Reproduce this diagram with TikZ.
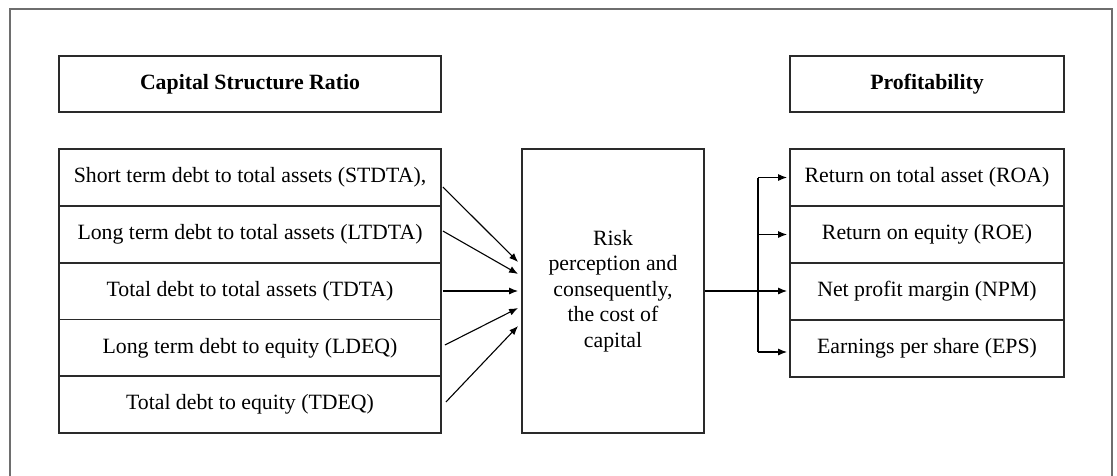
\documentclass[tikz,border=0pt]{standalone}
\usepackage{fontspec}
\setmainfont{Liberation Serif}
\usetikzlibrary{arrows.meta,calc}
\definecolor{framegray}{HTML}{6E6E6E}
\definecolor{boxgray}{HTML}{2A2A2A}
\tikzset{
  box/.style={draw=boxgray,line width=1.8pt,rectangle,inner sep=0pt,align=center,
    font=\fontsize{21.8}{25.5}\selectfont},
  lrow/.style={box,minimum width=382pt,minimum height=56.8pt},
  rrow/.style={box,minimum width=274pt,minimum height=57pt},
  titlebox/.style={box,minimum height=56pt,font=\fontsize{21.8}{25.5}\selectfont\bfseries},
  arr/.style={draw=black,line width=1.1pt,-{Latex[length=9pt,width=7pt]}},
  ln/.style={draw=black,line width=1.1pt}
}
\begin{document}
\begin{tikzpicture}[x=1pt,y=-1pt]
\useasboundingbox (0,0) rectangle (1117,475);
% outer frame (open at bottom)
\draw[framegray,line width=2.2pt] (10,477) -- (10,9) -- (1112,9) -- (1112,477);
% titles
\node[titlebox,minimum width=382pt] (csr) at (250,84) {Capital Structure Ratio};
\node[titlebox,minimum width=274pt] (prof) at (927,84) {Profitability};
% left rows
\node[lrow] (l1) at (250,177.4) {Short term debt to total assets (STDTA),};
\node[lrow] (l2) at (250,234.2) {Long term debt to total assets (LTDTA)};
\node[lrow] (l3) at (250,291.0) {Total debt to total assets (TDTA)};
\node[lrow] (l4) at (250,347.8) {Long term debt to equity (LDEQ)};
\node[lrow] (l5) at (250,404.6) {Total debt to equity (TDEQ)};
% middle
\node[box,minimum width=182pt,minimum height=284pt] (mid) at (613,291)
  {Risk\\perception and\\consequently,\\the cost of\\capital};
% right rows
\node[rrow] (r1) at (927,177.5) {Return on total asset (ROA)};
\node[rrow] (r2) at (927,234.5) {Return on equity (ROE)};
\node[rrow] (r3) at (927,291.5) {Net profit margin (NPM)};
\node[rrow] (r4) at (927,348.5) {Earnings per share (EPS)};
% left arrows
\draw[arr] ([xshift=1pt,yshift=-9.6pt]l1.east) -- ([xshift=-3pt,yshift=29pt]mid.west);
\draw[arr] ([xshift=1pt,yshift=3.2pt]l2.east) -- ([xshift=-3pt,yshift=17pt]mid.west);
\draw[arr] ([xshift=1pt]l3.east) -- ([xshift=-3pt]mid.west);
\draw[arr] ([xshift=3pt,yshift=2.8pt]l4.east) -- ([xshift=-3pt,yshift=-17pt]mid.west);
\draw[arr] ([xshift=4pt,yshift=2.6pt]l5.east) -- ([xshift=-3pt,yshift=-35pt]mid.west);
% right connectors
\coordinate (bx) at (758,291);
\draw[arr] (mid.east) -- ([xshift=-2pt]r3.west |- mid.east);
\draw[ln] (bx |- r1.west) -- ([yshift=-3.5pt]bx |- r4.west);
\draw[arr] (bx |- r1.west) -- ([xshift=-2pt]r1.west);
\draw[arr] (bx |- r2.west) -- ([xshift=-2pt]r2.west);
\draw[arr] ([yshift=-3.5pt]bx |- r4.west) -- ([xshift=-2pt,yshift=-3.5pt]r4.west);
\end{tikzpicture}
\end{document}
